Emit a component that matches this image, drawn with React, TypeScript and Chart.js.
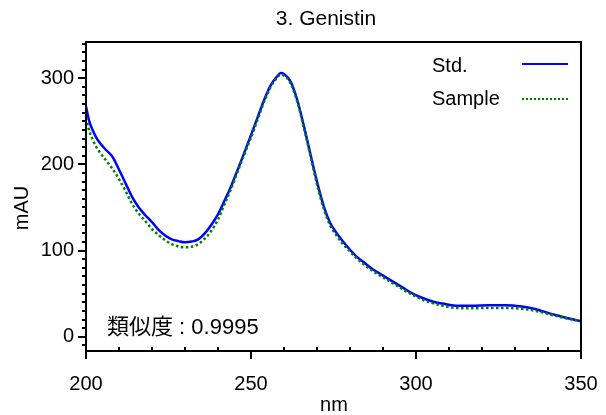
import React, { useEffect, useRef } from "react";
import { Chart, registerables } from "chart.js";

Chart.register(...registerables);

const chartTitle = "3. Genistin";
const xTitle = "nm";
const yTitle = "mAU";
const similarityText = "類似度 : 0.9995";
const seriesNames = ["Std.", "Sample"];

const wavelengths = [200, 201, 202, 203, 204, 206, 208, 210, 212, 214, 216, 218, 220, 222, 224, 226, 228, 230, 232, 234, 236, 238, 240, 242, 244, 246, 248, 250, 252, 254, 256, 258, 259, 260, 262, 264, 266, 268, 270, 272, 274, 276, 278, 280, 282, 284, 287, 290, 293, 296, 299, 302, 305, 308, 312, 317, 322, 327, 332, 335, 338, 342, 346, 350];

const stdValues = [267, 250, 240, 232, 226, 217, 209, 194, 178, 162, 150, 141, 133, 124, 117.5, 113, 111, 109.7, 110.5, 113, 120, 130, 142, 158, 175, 194, 214, 234, 254.5, 275, 292, 302.5, 306, 305, 296, 275, 245, 212, 180, 152, 132, 120, 110, 101, 93, 87, 78, 71, 64, 57, 50, 45, 41, 38.5, 36, 36, 36.5, 36.5, 35, 33, 30, 25.5, 21.5, 18];

const sampleValues = [254, 239, 229, 221, 215, 205, 195, 183, 169, 154, 143, 134, 125, 118, 112, 107.5, 104.8, 103.8, 104.5, 107.5, 114, 123, 136, 154, 172, 192, 212, 231, 252, 273, 290, 301, 304, 303, 294, 273, 243, 210, 177, 149, 129, 117, 107, 99, 91, 84.5, 76, 69, 62, 55, 48.5, 43, 39, 36, 33.5, 33, 33.5, 33.5, 32.5, 31, 28.5, 24.5, 21, 18];

const xMin = 200;
const xMax = 350;
const xMajorStep = 50;
const xMinorStep = 10;
const yMin = -16.5;
const yMax = 342;
const yMajorTicks = [0, 100, 200, 300];
const yMinorStep = 10;

const FONT = "'Liberation Sans', 'Noto Sans CJK JP', Arial, sans-serif";
const BLUE = "#0000ff";
const GREEN = "#008000";

const decorPlugin = {
  id: "decor",
  afterDraw(chart: any) {
    const { ctx, chartArea } = chart;
    const xs = chart.scales.x;
    const ys = chart.scales.y;
    const { left, right, top, bottom } = chartArea;
    ctx.save();
    ctx.strokeStyle = "#000";
    ctx.lineWidth = 2;
    ctx.strokeRect(left, top, right - left, bottom - top);
    for (let v = xMin; v <= xMax + 0.001; v += xMinorStep) {
      const px = Math.round(xs.getPixelForValue(v));
      ctx.beginPath();
      if (v % xMajorStep === 0) {
        ctx.moveTo(px, bottom);
        ctx.lineTo(px, bottom + 8);
      } else {
        ctx.moveTo(px, bottom);
        ctx.lineTo(px, bottom - 4);
      }
      ctx.stroke();
    }
    const start = Math.ceil(yMin / yMinorStep) * yMinorStep;
    for (let v = start; v <= yMax; v += yMinorStep) {
      const py = Math.round(ys.getPixelForValue(v));
      ctx.beginPath();
      ctx.moveTo(left, py);
      ctx.lineTo(left - (yMajorTicks.includes(v) ? 8 : 4), py);
      ctx.stroke();
    }
    ctx.fillStyle = "#000";
    ctx.textBaseline = "middle";
    ctx.textAlign = "center";
    ctx.font = `21px ${FONT}`;
    ctx.fillText(chartTitle, 326, 19);
    ctx.font = `20px ${FONT}`;
    ctx.fillText(xTitle, 334, 405);
    ctx.save();
    ctx.translate(22, 208);
    ctx.rotate(-Math.PI / 2);
    ctx.fillText(yTitle, 0, 0);
    ctx.restore();
    ctx.textAlign = "left";
    ctx.font = `20px ${FONT}`;
    ctx.fillText(seriesNames[0], 432, 66);
    ctx.fillText(seriesNames[1], 432, 99);
    ctx.strokeStyle = BLUE;
    ctx.lineWidth = 2;
    ctx.beginPath();
    ctx.moveTo(522, 64);
    ctx.lineTo(568, 64);
    ctx.stroke();
    ctx.strokeStyle = GREEN;
    ctx.setLineDash([2, 2]);
    ctx.beginPath();
    ctx.moveTo(522, 99);
    ctx.lineTo(568, 99);
    ctx.stroke();
    ctx.setLineDash([]);
    ctx.fillStyle = "#000";
    ctx.font = `22px ${FONT}`;
    ctx.fillText(similarityText, 107, 328);
    ctx.restore();
  },
};

export default function App() {
  const canvasRef = useRef<HTMLCanvasElement | null>(null);

  useEffect(() => {
    document.body.style.margin = "0";
    const canvas = canvasRef.current;
    if (!canvas) return;
    const chart = new Chart(canvas, {
      type: "line",
      data: {
        datasets: [
          {
            label: seriesNames[1],
            data: wavelengths.map((x, i) => ({ x, y: sampleValues[i] })),
            borderColor: GREEN,
            borderWidth: 2.5,
            borderDash: [2.5, 2.5],
            pointRadius: 0,
            cubicInterpolationMode: "monotone",
            fill: false,
          },
          {
            label: seriesNames[0],
            data: wavelengths.map((x, i) => ({ x, y: stdValues[i] })),
            borderColor: BLUE,
            borderWidth: 2.5,
            pointRadius: 0,
            cubicInterpolationMode: "monotone",
            fill: false,
          },
        ],
      },
      options: {
        responsive: false,
        animation: false,
        layout: { padding: { left: 0, right: 25, top: 42, bottom: 0 } },
        plugins: {
          legend: { display: false },
          title: { display: false },
          tooltip: { enabled: false },
        },
        scales: {
          x: {
            type: "linear",
            min: xMin,
            max: xMax,
            grid: { display: false, drawTicks: false },
            border: { display: false },
            ticks: {
              stepSize: xMajorStep,
              padding: 21,
              color: "#000",
              font: { family: FONT, size: 20 },
              maxRotation: 0,
              autoSkip: false,
            },
            afterFit: (s: any) => {
              s.height = 64;
              s.paddingLeft = 0;
              s.paddingRight = 0;
            },
          },
          y: {
            type: "linear",
            min: yMin,
            max: yMax,
            grid: { display: false, drawTicks: false },
            border: { display: false },
            ticks: {
              padding: 12,
              color: "#000",
              font: { family: FONT, size: 20 },
              autoSkip: false,
            },
            afterBuildTicks: (s: any) => {
              s.ticks = yMajorTicks.map((value) => ({ value }));
            },
            afterFit: (s: any) => {
              s.width = 86;
              s.paddingTop = 0;
              s.paddingBottom = 0;
            },
          },
        },
      },
      plugins: [decorPlugin],
    });
    return () => chart.destroy();
  }, []);

  return (
    <div style={{ width: 606, height: 415, background: "#fff" }}>
      <canvas ref={canvasRef} width={606} height={415} style={{ display: "block" }} />
    </div>
  );
}
